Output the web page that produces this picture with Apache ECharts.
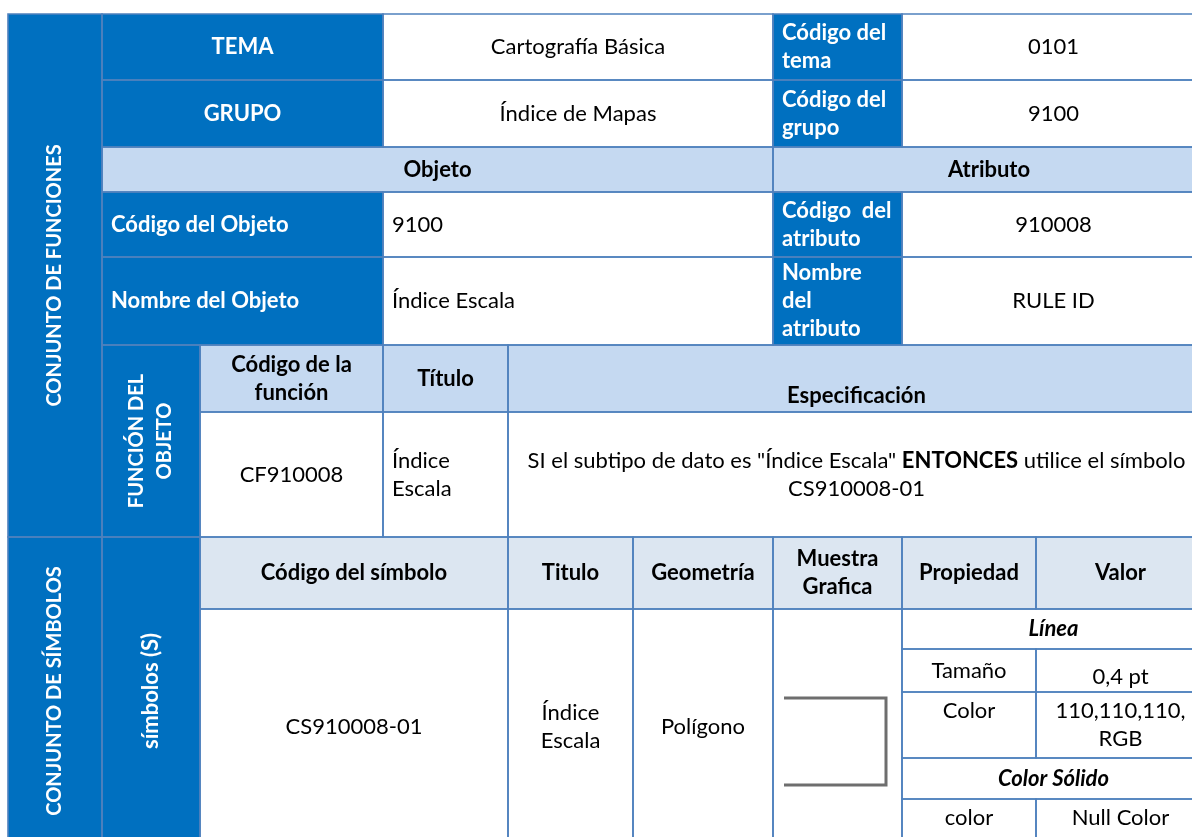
<!DOCTYPE html>
<html><head><meta charset="utf-8">
<script src="https://cdn.jsdelivr.net/npm/echarts@6/dist/echarts.min.js"></script>
<style>html,body{margin:0;padding:0;background:#fff}#c{width:1192px;height:837px}</style>
</head><body><div id="c"></div>
<script>
// ---- table content ----
const sectionLabels = ["CONJUNTO DE FUNCIONES", "CONJUNTO DE SÍMBOLOS", "FUNCIÓN DEL\nOBJETO", "símbolos (S)"];
const topLabels = ["TEMA", "GRUPO"];
const topValues = ["Cartografía Básica", "Índice de Mapas"];
const codeLabels = ["Código del\ntema", "Código del\ngrupo"];
const codeValues = ["0101", "9100"];
const sectionHeaders = ["Objeto", "Atributo"];
const objLabels = ["Código del Objeto", "Nombre del Objeto"];
const objValues = ["9100", "Índice Escala"];
const attrLabels = ["Código  del\natributo", "Nombre\ndel\natributo"];
const attrValues = ["910008", "RULE ID"];
const funcHeaders = ["Código de la\nfunción", "Título", "Especificación"];
const funcRow = ["CF910008", "Índice\nEscala", "SI el subtipo de dato es \"Índice Escala\" {b|ENTONCES} utilice el símbolo\nCS910008-01"];
const symHeaders = ["Código del símbolo", "Titulo", "Geometría", "Muestra\nGrafica", "Propiedad", "Valor"];
const symRow = ["CS910008-01", "Índice\nEscala", "Polígono"];
const propGroups = ["Línea", "Color Sólido"];
const propNames = ["Tamaño", "Color", "color"];
const propValues = ["0,4 pt", "110,110,110,\nRGB", "Null Color"];

// ---- layout (grid lines) ----
const colEdges = [8, 102, 200, 383, 508, 633, 773, 902, 1036, 1205];
const rowEdges = [14, 80, 147, 192, 257, 345, 412, 537, 609, 649, 692, 758, 799, 845];

// cell: [c0, c1, r0, r1, text, kind, options]
const cells = [
  [0,1,0,7, sectionLabels[0], 'dark', {rot:true, fs:20}],
  [1,3,0,1, topLabels[0], 'dark'],
  [3,6,0,1, topValues[0], 'white'],
  [6,7,0,1, codeLabels[0], 'dark', {al:'left'}],
  [7,9,0,1, codeValues[0], 'white'],
  [1,3,1,2, topLabels[1], 'dark'],
  [3,6,1,2, topValues[1], 'white'],
  [6,7,1,2, codeLabels[1], 'dark', {al:'left'}],
  [7,9,1,2, codeValues[1], 'white'],
  [1,6,2,3, sectionHeaders[0], 'hdr'],
  [6,9,2,3, sectionHeaders[1], 'hdr'],
  [1,3,3,4, objLabels[0], 'dark', {al:'left'}],
  [3,6,3,4, objValues[0], 'white', {al:'left'}],
  [6,7,3,4, attrLabels[0], 'dark', {al:'left'}],
  [7,9,3,4, attrValues[0], 'white'],
  [1,3,4,5, objLabels[1], 'dark', {al:'left'}],
  [3,6,4,5, objValues[1], 'white', {al:'left'}],
  [6,7,4,5, attrLabels[1], 'dark', {al:'left'}],
  [7,9,4,5, attrValues[1], 'white'],
  [1,2,5,7, sectionLabels[2], 'dark', {rot:true, fs:20}],
  [2,3,5,6, funcHeaders[0], 'hdr'],
  [3,4,5,6, funcHeaders[1], 'hdr'],
  [4,9,5,6, funcHeaders[2], 'hdr', {va:'bottom'}],
  [2,3,6,7, funcRow[0], 'white'],
  [3,4,6,7, funcRow[1], 'white', {al:'left'}],
  [4,9,6,7, funcRow[2], 'white', {rich:true}],
  [0,1,7,13, sectionLabels[1], 'dark', {rot:true, fs:20}],
  [1,2,7,13, sectionLabels[3], 'dark', {rot:true}],
  [2,4,7,8, symHeaders[0], 'shdr'],
  [4,5,7,8, symHeaders[1], 'shdr'],
  [5,6,7,8, symHeaders[2], 'shdr'],
  [6,7,7,8, symHeaders[3], 'shdr'],
  [7,8,7,8, symHeaders[4], 'shdr'],
  [8,9,7,8, symHeaders[5], 'shdr'],
  [2,4,8,13, symRow[0], 'white'],
  [4,5,8,13, symRow[1], 'white'],
  [5,6,8,13, symRow[2], 'white'],
  [6,7,8,13, '', 'white', {sample:true}],
  [7,9,8,9, propGroups[0], 'bi'],
  [7,8,9,10, propNames[0], 'white'],
  [8,9,9,10, propValues[0], 'white', {dy:6}],
  [7,8,10,11, propNames[1], 'white', {va:'top'}],
  [8,9,10,11, propValues[1], 'white', {va:'top'}],
  [7,9,11,12, propGroups[1], 'bi'],
  [7,8,12,13, propNames[2], 'white', {va:'top'}],
  [8,9,12,13, propValues[2], 'white', {va:'top'}]
];

const FONT = 'Lato';
const FS = 22;
const kinds = {
  dark:  {fill:'#0070C0', color:'#ffffff', weight:'bold', style:'normal'},
  white: {fill:'#ffffff', color:'#000000', weight:'normal', style:'normal'},
  hdr:   {fill:'#C5D9F1', color:'#000000', weight:'bold', style:'normal'},
  shdr:  {fill:'#DCE6F1', color:'#000000', weight:'bold', style:'normal'},
  bi:    {fill:'#ffffff', color:'#000000', weight:'bold', style:'italic'}
};

const data = cells.map(c => [colEdges[c[0]], colEdges[c[1]], rowEdges[c[2]], rowEdges[c[3]]]);

function box(api){
  const p0 = api.coord([api.value(0), api.value(2)]);
  const p1 = api.coord([api.value(1), api.value(3)]);
  return {x:p0[0], y:p0[1], w:p1[0]-p0[0], h:p1[1]-p0[1]};
}

function renderFill(params, api){
  const c = cells[params.dataIndex];
  const o = c[6] || {};
  const k = kinds[c[5]];
  const b = box(api);
  const children = [{type:'rect', shape:{x:b.x, y:b.y, width:b.w, height:b.h}, style:{fill:k.fill}, silent:true}];
  if (c[4]) {
    const al = o.al || 'center';
    const va = o.va || 'middle';
    const fs = o.fs || FS;
    let tx = al === 'left' ? b.x + 9 : b.x + b.w/2;
    let ty = va === 'top' ? b.y + 5 : (va === 'bottom' ? b.y + b.h - 2 : b.y + b.h/2);
    ty += (o.dy || 0);
    const st = {
      text: c[4], x:0, y:0, align: al, verticalAlign: va,
      fill: k.color, fontFamily: FONT, fontSize: fs, fontWeight: k.weight, fontStyle: k.style,
      lineHeight: 28
    };
    if (o.rich) {
      st.rich = {b:{fontFamily:FONT, fontSize:fs, fontWeight:'bold', fill:'#000', lineHeight:28}};
    }
    children.push({type:'text', x:tx, y:ty, rotation: o.rot ? Math.PI/2 : 0, style: st, silent:true});
  }
  if (o.sample) {
    const sx0 = b.x + 11, sx1 = b.x + b.w - 16, sy0 = b.y + 89, sy1 = b.y + 176;
    children.push({type:'polyline', shape:{points:[[sx0,sy0],[sx1,sy0],[sx1,sy1],[sx0,sy1]]},
      style:{stroke:'#6E6E6E', lineWidth:3, fill:null}, silent:true});
  }
  return {type:'group', children};
}

function renderStroke(params, api){
  const b = box(api);
  return {type:'rect', shape:{x:b.x, y:b.y, width:b.w, height:b.h},
    style:{fill:null, stroke:'#4F81BD', lineWidth:1.6}, silent:true};
}

const chart = echarts.init(document.getElementById('c'), null, {renderer:'canvas'});
chart.setOption({
  animation:false,
  backgroundColor:'#ffffff',
  grid:{left:0, right:0, top:0, bottom:0},
  xAxis:{type:'value', min:0, max:1192, show:false},
  yAxis:{type:'value', min:0, max:837, inverse:true, show:false},
  series:[
    {type:'custom', renderItem:renderFill, data:data, z:1, clip:false},
    {type:'custom', renderItem:renderStroke, data:data, z:2, clip:false}
  ]
});
</script></body></html>
